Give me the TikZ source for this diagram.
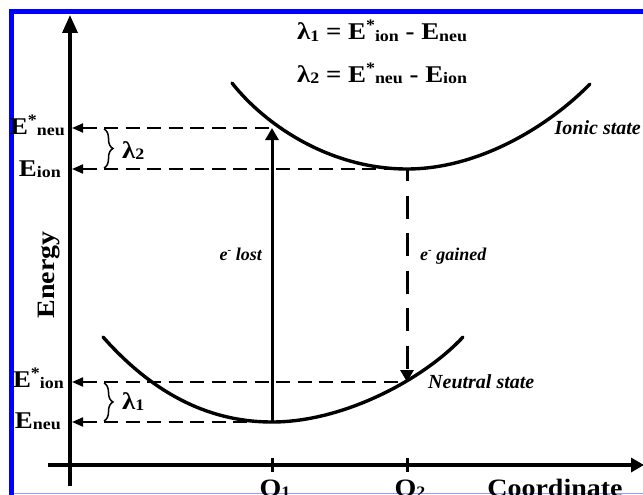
\documentclass[tikz,border=0pt]{standalone}
\usepackage{fontspec}
\setmainfont{Liberation Serif}
\newfontfamily\widefont{Liberation Serif}[FakeStretch=1.12]
\usetikzlibrary{arrows.meta,decorations.pathreplacing}
\newcommand{\smtx}[1]{\raisebox{-1.5pt}{\fontsize{16}{16}\selectfont #1}}
\newcommand{\startx}{\raisebox{9pt}{\fontsize{16}{16}\selectfont *}}
\newcommand{\bigfont}{\widefont\fontsize{24}{28}\selectfont\bfseries}
\begin{document}
\begin{tikzpicture}[x=1pt,y=-1pt,
  axis/.style={line width=3.4pt},
  curve/.style={line width=3.4pt},
  level/.style={line width=2pt, dash pattern=on 14pt off 7.5pt},
  lvltip/.style={{Triangle[length=11pt,width=9pt]}-},
  tick/.style={line width=3pt},
  jump/.style={line width=3pt,-{Triangle[length=12pt,width=13pt]}},
  bracestyle/.style={line width=1.5pt,decorate,decoration={brace,amplitude=9pt,aspect=0.5}},
  lab/.style={inner sep=0pt,font=\bigfont},
  state/.style={inner sep=0pt,font=\fontsize{20}{24}\selectfont\bfseries\itshape},
  elab/.style={inner sep=0pt,font=\fontsize{18}{21}\selectfont\bfseries\itshape},
  axlab/.style={inner sep=0pt,font=\widefont\fontsize{25}{30}\selectfont\bfseries}]
\useasboundingbox (0,0) rectangle (643,495);
\fill[white] (0,0) rectangle (643,495);
% frame
\draw[blue,line width=5pt,line join=miter] (11.5,495) -- (11.5,11.5) -- (643,11.5);
\draw[blue!40,line width=1.2pt] (14,493.8) -- (643,493.8);
% axes
\coordinate (yBot) at (70,486);
\coordinate (yTop) at (70,15);
\coordinate (xL) at (48,465);
\coordinate (xR) at (644,465);
\draw[axis,-{Triangle[length=18pt,width=15pt]}] (yBot) -- (yTop);
\draw[axis,-{Triangle[length=13pt,width=14pt]}] (xL) -- (xR);
% ticks
\coordinate (t1a) at (272,458); \coordinate (t1b) at (272,472);
\coordinate (t2a) at (407,458); \coordinate (t2b) at (407,472);
\draw[tick] (t1a) -- (t1b);
\draw[tick] (t2a) -- (t2b);
% key points
\coordinate (aNS) at (72,128); \coordinate (pNS) at (272,128);
\coordinate (aEI) at (72,169); \coordinate (pEI) at (407,169);
\coordinate (aIS) at (72,382); \coordinate (pIS) at (407,382);
\coordinate (aEN) at (72,422); \coordinate (pEN) at (272,422);
% level lines
\draw[level,lvltip] (aNS) -- (pNS);
\draw[level,lvltip] (aEI) -- (pEI);
\draw[level,lvltip] (aIS) -- (pIS);
\draw[level,lvltip] (aEN) -- (pEN);
% curves
\coordinate (nL) at (103,337); \coordinate (nR) at (463,337);
\coordinate (iL) at (232,83); \coordinate (iR) at (590,84);
\draw[curve,line cap=round] (nL) .. controls (150,390) and (205,422) .. (pEN)
  .. controls (345,422) and (425,378) .. (nR);
\draw[curve,line cap=round] (iL) .. controls (265,125) and (330,169) .. (pEI)
  .. controls (480,169) and (550,125) .. (iR);
% transitions
\draw[jump] (pEN) -- (pNS);
\draw[jump,dash pattern=on 23pt off 14.5pt,dash phase=11pt] (pEI) -- (pIS);
% braces
\coordinate (b2t) at (104,129); \coordinate (b2b) at (104,168);
\coordinate (b1t) at (104,383); \coordinate (b1b) at (104,421);
\draw[bracestyle] (b2t) -- (b2b);
\draw[bracestyle] (b1t) -- (b1b);
\node[lab,anchor=base west] (l2) at (122,158) {λ\smtx{2}};
\node[lab,anchor=base west] (l1) at (122,409) {λ\smtx{1}};
% left labels
\node[lab,anchor=base east] (LNS) at (65,134) {E\startx\smtx{neu}};
\node[lab,anchor=base east] (LEI) at (61,176) {E\smtx{ion}};
\node[lab,anchor=base east] (LIS) at (64,387) {E\startx\smtx{ion}};
\node[lab,anchor=base east] (LEN) at (61,428) {E\smtx{neu}};
% equations
\node[lab,anchor=base west] (eq1) at (297,40) {λ\smtx{1} = E\startx\smtx{ion} - E\smtx{neu}};
\node[lab,anchor=base west] (eq2) at (297,82) {λ\smtx{2} = E\startx\smtx{neu} - E\smtx{ion}};
% state labels
\node[state,anchor=base east] (ionic) at (641,135) {Ionic state};
\node[state,anchor=base west] (neutral) at (428,388) {Neutral state};
\node[elab,anchor=base east] (lost) at (262,260) {e\raisebox{7pt}{\fontsize{11}{11}\selectfont -} lost};
\node[elab,anchor=base west] (gained) at (420,260) {e\raisebox{7pt}{\fontsize{11}{11}\selectfont -} gained};
% axis labels
\node[axlab,rotate=90,anchor=base] (energy) at (54,275) {Energy};
\node[axlab,anchor=base] (o1) at (275,496) {O\smtx{1}};
\node[axlab,anchor=base] (o2) at (410,496) {O\smtx{2}};
\node[axlab,anchor=base] (coord) at (555,496) {Coordinate};
\end{tikzpicture}
\end{document}
